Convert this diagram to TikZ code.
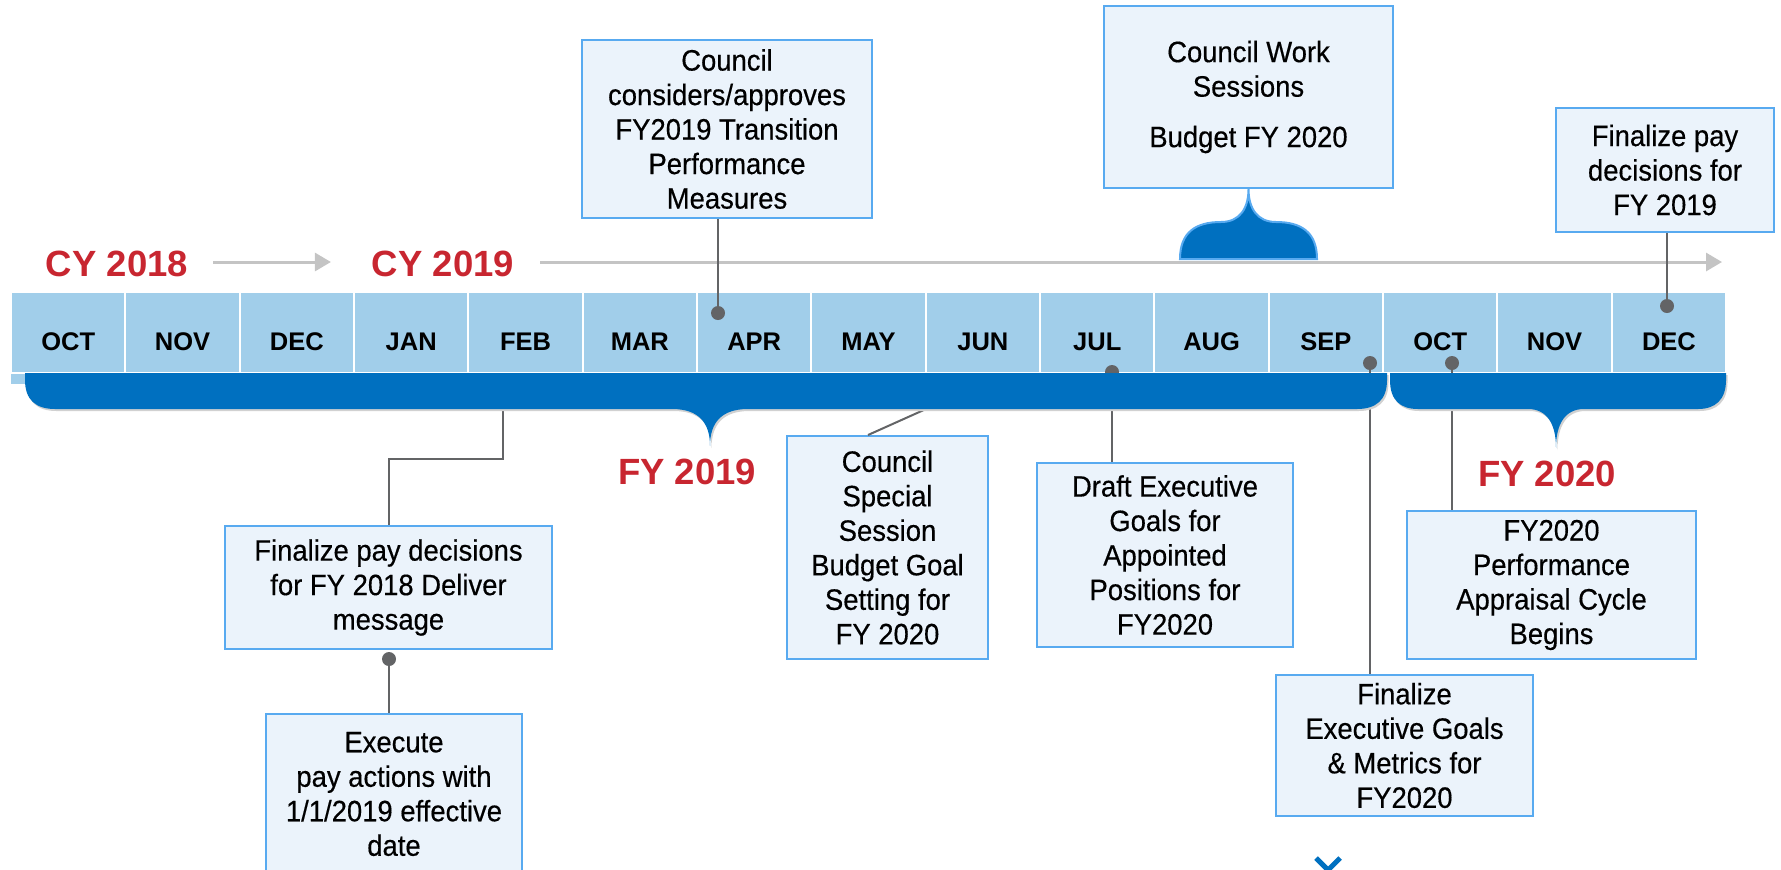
\documentclass[tikz,border=0pt]{standalone}
\usepackage{fontspec}
\setmainfont{Liberation Sans}
\newfontfamily\narrowsans[FakeStretch=0.93,FakeBold=0.4]{Liberation Sans}
\usetikzlibrary{positioning,arrows.meta}

\definecolor{cellblue}{RGB}{161,206,234}
\definecolor{bandblue}{RGB}{0,112,192}
\definecolor{boxfill}{RGB}{235,243,251}
\definecolor{boxline}{RGB}{88,170,240}
\definecolor{linkgray}{RGB}{99,100,102}
\definecolor{axisgray}{RGB}{196,196,196}
\definecolor{yearred}{RGB}{200,38,48}

\tikzset{
  month/.style={draw=white, line width=1pt, fill=cellblue, outer sep=0pt, inner sep=0pt,
    minimum width=57.17pt, minimum height=40.5pt, text height=17.6pt, text depth=0pt,
    font=\bfseries\fontsize{12.75}{14}\selectfont},
  note/.style={draw=boxline, fill=boxfill, line width=1pt, align=center, inner sep=0pt,
    font=\narrowsans\fontsize{14.75}{17.25}\selectfont},
  yearlabel/.style={text=yearred, font=\bfseries\fontsize{18.25}{20}\selectfont},
  pinhead/.style={circle, fill=linkgray, inner sep=0pt, minimum size=7pt},
  link/.style={draw=linkgray, line width=1pt},
  timeline/.style={draw=axisgray, line width=1.5pt, -{Triangle[length=8pt,width=9pt]}},
  fyband/.style={fill=bandblue, preaction={fill=black!18, transform canvas={xshift=0.75pt,yshift=-1pt}}},
}

\begin{document}
\begin{tikzpicture}[x=0.5pt,y=-0.5pt,node distance=0pt]
\useasboundingbox (0,0) rectangle (1781,869);

% calendar years
\node[yearlabel] (cy18) at (117,264) {CY 2018};
\node[yearlabel] (cy19) at (443,264) {CY 2019};
\coordinate (tEnd) at (1722,262);
\path[timeline] ([xshift=9pt,yshift=1pt]cy18.east) -- ([xshift=-17pt,yshift=1pt]cy19.west);
\path[timeline] ([xshift=9.5pt,yshift=1pt]cy19.east) -- (tEnd);

% months
\fill[cellblue] (11,370) rectangle (26,384);
\node[month] (m1) at (68.17,332.5) {OCT};
\node[month, right=of m1] (m2) {NOV};
\node[month, right=of m2] (m3) {DEC};
\node[month, right=of m3] (m4) {JAN};
\node[month, right=of m4] (m5) {FEB};
\node[month, right=of m5] (m6) {MAR};
\node[month, right=of m6] (m7) {APR};
\node[month, right=of m7] (m8) {MAY};
\node[month, right=of m8] (m9) {JUN};
\node[month, right=of m9] (m10) {JUL};
\node[month, right=of m10] (m11) {AUG};
\node[month, right=of m11] (m12) {SEP};
\node[month, right=of m12] (m13) {OCT};
\node[month, right=of m13] (m14) {NOV};
\node[month, right=of m14] (m15) {DEC};

% events
\node[note, minimum width=145pt, minimum height=89pt] (measures) at (727,129)
  {Council\\ considers/approves\\ FY2019 Transition\\ Performance\\ Measures};
\node[note, minimum width=144.5pt, minimum height=91pt] (worksess) at (1248.5,97)
  {Council Work\\ Sessions\\[8pt] Budget FY 2020};
\node[note, minimum width=109pt, minimum height=62pt] (payFY19) at (1665,170)
  {Finalize pay\\ decisions for\\ FY 2019};
\node[note, minimum width=163.5pt, minimum height=61.5pt] (payFY18) at (388.5,587.5)
  {Finalize pay decisions\\ for FY 2018 Deliver\\ message};
\node[note, minimum width=128pt, minimum height=80pt] (execute) at (394,794)
  {Execute\\ pay actions with\\ 1/1/2019 effective\\ date};
\node[note, minimum width=100.5pt, minimum height=111.5pt] (special) at (887.5,547.5)
  {Council\\ Special\\ Session\\ Budget Goal\\ Setting for\\ FY 2020};
\node[note, minimum width=128pt, minimum height=92pt] (draft) at (1165,555)
  {Draft Executive\\ Goals for\\ Appointed\\ Positions for\\ FY2020};
\node[note, minimum width=144.5pt, minimum height=74pt] (cycle) at (1551.5,585)
  {FY2020\\ Performance\\ Appraisal Cycle\\ Begins};
\node[note, minimum width=128.5pt, minimum height=70.5pt] (finalize) at (1404.5,745.5)
  {Finalize\\ Executive Goals\\ \& Metrics for\\ FY2020};

% markers on the months
\node[pinhead] (dApr) at (718,313) {};
\node[pinhead] (dDec) at (1667,306) {};
\node[pinhead] (dJul) at (1112,372) {};
\node[pinhead] (dSep) at (1370,363) {};
\node[pinhead] (dOct) at (1452,363) {};
\node[pinhead] (dPay) at (389,659) {};

\path[link] (measures.south -| dApr) -- (dApr.center);
\path[link] (payFY19.south -| dDec) -- (dDec.center);
\path[link] (dJul.center) -- (dJul |- draft.north);
\path[link] (dSep.center) -- (dSep |- finalize.north);
\path[link] (dOct.center) -- (dOct |- cycle.north);
\path[link] (dPay.center) -- (dPay |- execute.north);
\coordinate (fFeb) at (503,409);
\path[link] (fFeb) -- ++(0,50) -| (payFY18.north);
\coordinate (fMay) at (926,409);
\path[link] (fMay) -- ([xshift=41pt]special.north west);

% fiscal year braces
\path[fyband] (25,373) -- (1387,373) -- (1387,380)
  .. controls (1387,400) and (1376,409) .. (1357,409) -- (748,409)
  .. controls (722,409) and (710,422) .. (710,446)
  .. controls (710,422) and (698,409) .. (672,409) -- (55,409)
  .. controls (36,409) and (25,400) .. (25,380) -- cycle;
\path[fyband] (1390,373) -- (1726,373) -- (1726,380)
  .. controls (1726,400) and (1715,409) .. (1698,409) -- (1584,409)
  .. controls (1565,409) and (1556,424) .. (1556,448)
  .. controls (1556,424) and (1547,409) .. (1528,409) -- (1418,409)
  .. controls (1400,409) and (1390,400) .. (1390,380) -- cycle;
\node[yearlabel] (fy19) at (687,472) {FY 2019};
\node[yearlabel] (fy20) at (1547,474) {FY 2020};

% work session span
\path[fill=bandblue, draw=boxline, line width=1pt] (1180,259)
  .. controls (1180,232) and (1196,222) .. (1221,222)
  .. controls (1240,222) and (1248.5,208) .. (worksess.south)
  .. controls (1248.5,208) and (1257,222) .. (1276,222)
  .. controls (1301,222) and (1317,232) .. (1317,259) -- cycle;

\draw[bandblue, line width=2.5pt] (1316,858) -- (1328,870) -- (1340,858);
\end{tikzpicture}
\end{document}
